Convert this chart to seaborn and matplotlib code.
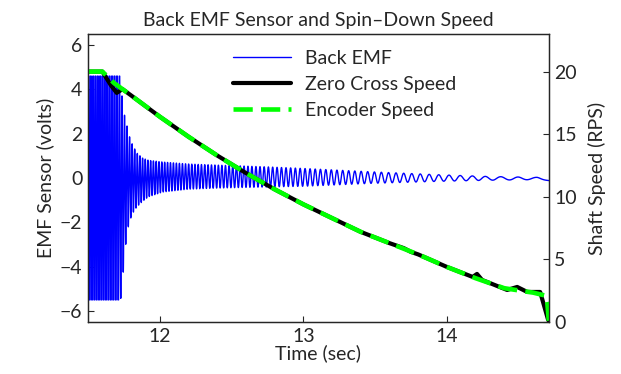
import numpy as np
import matplotlib
matplotlib.use('Agg')
import matplotlib.pyplot as plt
import seaborn as sns
import pandas as pd

# encoder speed (RPS)
enc_t = [11.50, 11.60, 11.68, 11.80, 12.00, 12.20, 12.40, 12.60, 12.80, 13.00,
         13.20, 13.40, 13.60, 13.80, 14.00, 14.20, 14.40, 14.60, 14.69, 14.70, 14.71]
enc_rps = [20.0, 20.0, 19.1, 18.1, 16.4, 14.8, 13.3, 11.9, 10.6, 9.4,
           8.3, 7.2, 6.3, 5.4, 4.4, 3.5, 2.7, 2.35, 2.1, 1.5, 0.1]

# zero-cross speed, a little noisier at the end
zc_t = [11.50, 11.60, 11.66, 11.70, 11.74, 11.80, 12.00, 12.20, 12.40, 12.60,
        12.80, 13.00, 13.20, 13.40, 13.60, 13.70, 13.75, 13.80, 14.00, 14.18,
        14.21, 14.245, 14.28, 14.42, 14.49, 14.56, 14.65, 14.706]
zc_rps = [20.0, 20.0, 18.9, 18.3, 18.6, 18.1, 16.4, 14.8, 13.3, 11.9,
          10.6, 9.4, 8.3, 7.2, 6.3, 5.9, 5.6, 5.4, 4.4, 3.6,
          3.84, 3.36, 3.2, 2.56, 2.8, 2.4, 2.4, 0.15]

# back EMF peak envelope (volts)
env_t = [11.50, 11.70, 11.72, 11.745, 11.77, 11.79, 11.81, 11.84, 11.88, 11.92,
         12.02, 12.20, 12.40, 12.75, 13.00, 13.47, 13.93, 14.28, 14.63, 14.71]
env_hi = [9.0, 9.0, 5.0, 3.1, 2.4, 1.85, 1.5, 1.13, 0.9, 0.8,
          0.72, 0.63, 0.58, 0.50, 0.43, 0.28, 0.15, 0.07, 0.03, -0.05]
env_lo = [-10.0, -10.0, -6.0, -4.3, -2.5, -1.95, -1.6, -1.3, -1.05, -0.85,
          -0.63, -0.50, -0.45, -0.40, -0.37, -0.24, -0.15, -0.10, -0.07, -0.12]
emf_clip = (-5.5, 4.6)
cycles_per_rev = 3.1

# build the EMF trace from the zero-cross speed and the envelope
t = np.linspace(11.5, 14.71, 40000)
spd = np.interp(t, zc_t, zc_rps)
phase = 2 * np.pi * cycles_per_rev * np.cumsum(spd) * (t[1] - t[0])
hi = np.interp(t, env_t, env_hi)
lo = np.interp(t, env_t, env_lo)
emf = np.clip((hi + lo) / 2 + (hi - lo) / 2 * np.sin(phase), *emf_clip)

emf_df = pd.DataFrame({'t': t, 'v': emf})
enc_df = pd.DataFrame({'t': enc_t, 'rps': enc_rps})
zc_df = pd.DataFrame({'t': zc_t, 'rps': zc_rps})

sns.set_theme(style='white')
plt.rcParams['font.family'] = ['Lato', 'DejaVu Sans']
plt.rcParams['path.simplify'] = False
FS = 14

fig = plt.figure(figsize=(6.21, 3.74), dpi=100)
ax1 = fig.add_axes([0.1417, 0.139, 0.742, 0.770])
ax2 = ax1.twinx()

sns.lineplot(data=emf_df, x='t', y='v', ax=ax1, color='#0000ff', lw=1.0,
             estimator=None, sort=False, label='Back EMF', legend=False)
sns.lineplot(data=zc_df, x='t', y='rps', ax=ax2, color='black', lw=3.0,
             estimator=None, sort=False, label='Zero Cross Speed', legend=False)
enc_line = sns.lineplot(data=enc_df, x='t', y='rps', ax=ax2, color='#00ff00', lw=3.3,
                        estimator=None, sort=False, label='Encoder Speed',
                        legend=False).lines[-1]
enc_line.set_dashes((4.2, 1.8))

ax1.set_xlim(11.5, 14.71)
ax1.set_ylim(-6.5, 6.5)
ax2.set_ylim(0, 23)
ax1.set_xticks([12, 13, 14])
ax1.set_yticks([-6, -4, -2, 0, 2, 4, 6])
ax2.set_yticks([0, 5, 10, 15, 20])

for ax in (ax1, ax2):
    for s in ax.spines.values():
        s.set_color('#262626')
        s.set_linewidth(0.9)
ax1.tick_params(axis='both', direction='in', length=4, width=0.8, colors='#262626',
                labelsize=FS, left=True, bottom=True, right=False, top=False, pad=4)
ax2.tick_params(axis='y', direction='in', length=4, width=0.8, colors='#262626',
                labelsize=FS, right=True, left=False, pad=4)

ax1.set_xlabel('Time (sec)', fontsize=FS, labelpad=0)
ax1.set_ylabel('EMF Sensor (volts)', fontsize=FS, labelpad=4)
ax2.set_ylabel('Shaft Speed (RPS)', fontsize=FS, labelpad=8)
ax1.set_title('Back EMF Sensor and Spin\u2013Down Speed', fontsize=FS, pad=6)

h1, l1 = ax1.get_legend_handles_labels()
h2, l2 = ax2.get_legend_handles_labels()
ax2.legend(h1 + h2, l1 + l2, loc='upper left', bbox_to_anchor=(0.375, 0.866),
           bbox_transform=fig.transFigure, frameon=False, fontsize=FS,
           handlelength=3.0, handletextpad=0.7, labelspacing=0.45,
           borderpad=0, borderaxespad=0)

fig.savefig('out.png', dpi=100)
